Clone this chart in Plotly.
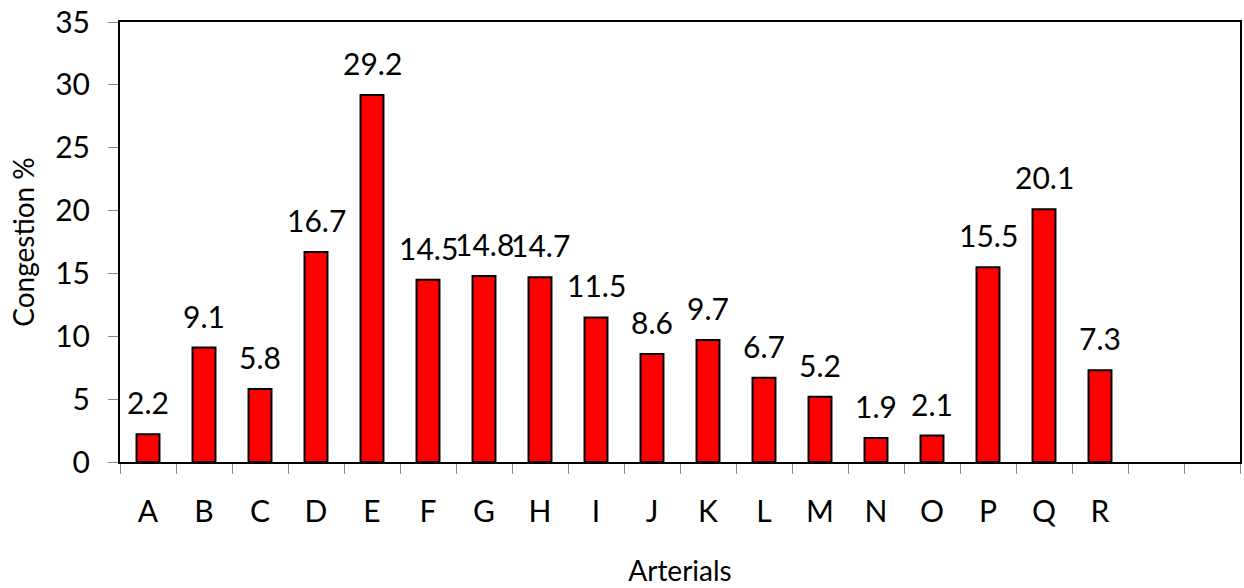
import plotly.graph_objects as go

# Arterials (two trailing empty slots as in the original sheet)
categories = ["A", "B", "C", "D", "E", "F", "G", "H", "I", "J",
              "K", "L", "M", "N", "O", "P", "Q", "R", " ", "  "]
congestion = [2.2, 9.1, 5.8, 16.7, 29.2, 14.5, 14.8, 14.7, 11.5, 8.6,
              9.7, 6.7, 5.2, 1.9, 2.1, 15.5, 20.1, 7.3, None, None]
y_ticks = [0, 5, 10, 15, 20, 25, 30, 35]

FONT = "Lato, Carlito, Calibri, sans-serif"
TICK_SIZE = 30

fig = go.Figure(go.Bar(
    x=categories,
    y=congestion,
    marker=dict(color="#ff0000", line=dict(color="black", width=2)),
    hovertemplate="<b>%{x}</b><br>Congestion: %{y}%<extra></extra>",
))

# value labels above each bar
for cat, val in zip(categories, congestion):
    if val is None:
        continue
    fig.add_annotation(
        x=cat, y=val, text=f"{val}", showarrow=False,
        yanchor="bottom", yshift=12,
        font=dict(family=FONT, size=TICK_SIZE, color="black"),
    )

fig.update_layout(
    width=1244,
    height=588,
    margin=dict(l=120, r=2, t=21, b=126),
    paper_bgcolor="white",
    plot_bgcolor="white",
    bargap=0.59,
    showlegend=False,
    font=dict(family=FONT, size=TICK_SIZE, color="black"),
)

fig.update_xaxes(
    type="category",
    categoryorder="array",
    categoryarray=categories,
    tickson="boundaries",
    ticks="outside",
    ticklen=10,
    tickwidth=1,
    tickcolor="#888888",
    ticklabelstandoff=22,
    showline=True,
    linecolor="black",
    linewidth=2,
    mirror=True,
    showgrid=False,
    tickfont=dict(family=FONT, size=TICK_SIZE),
    title=dict(text="Arterials", font=dict(family=FONT, size=28), standoff=34),
)

fig.update_yaxes(
    range=[0, 35],
    tickvals=y_ticks,
    ticks="outside",
    ticklen=10,
    tickwidth=1,
    tickcolor="#888888",
    ticklabelstandoff=12,
    showline=True,
    linecolor="black",
    linewidth=2,
    mirror=True,
    showgrid=False,
    zeroline=False,
    tickfont=dict(family=FONT, size=TICK_SIZE),
    title=dict(text="Congestion %", font=dict(family=FONT, size=28), standoff=12),
)

# drop the default body margin so the figure sits flush in the window
fig.write_html("out.html", config={"displayModeBar": False},
               post_script="document.body.style.margin='0';")
